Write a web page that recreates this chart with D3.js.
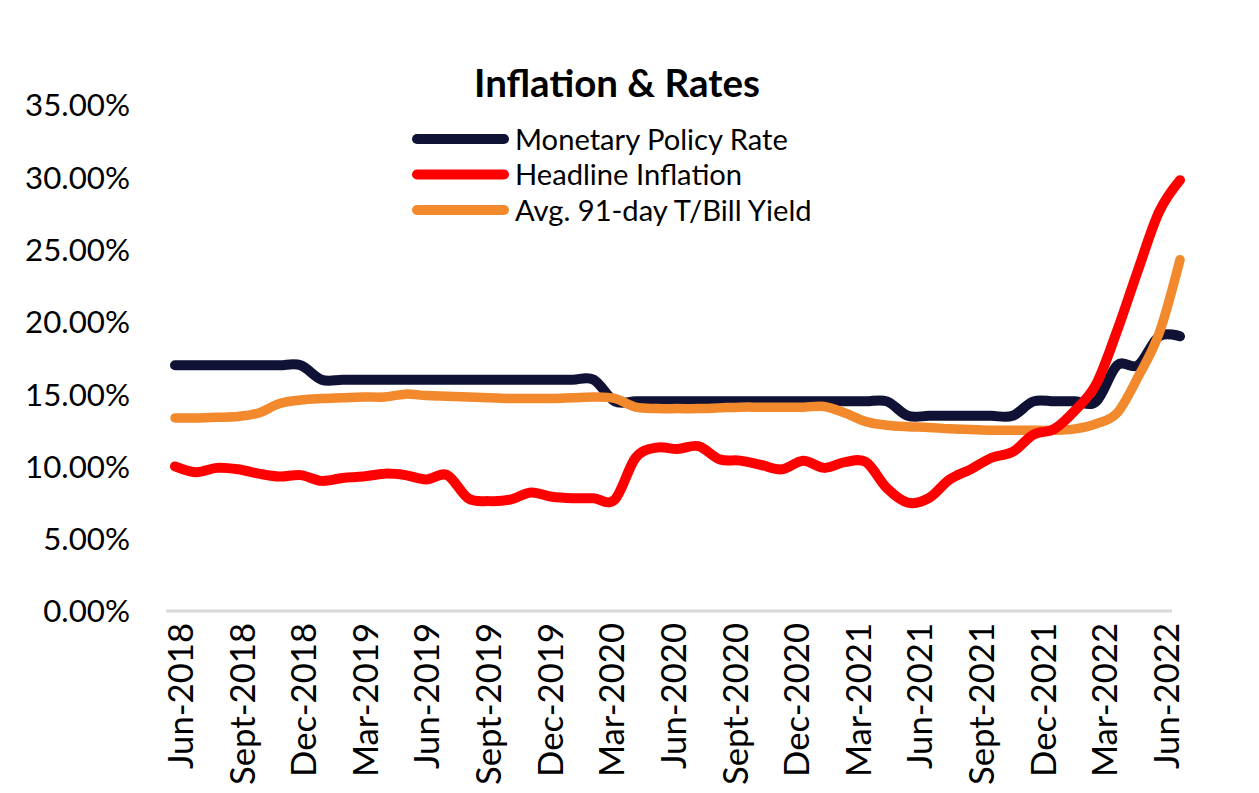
<!DOCTYPE html>
<html>
<head>
<meta charset="utf-8">
<script src="https://cdn.jsdelivr.net/npm/d3@7"></script>
<style>
  html, body { margin: 0; padding: 0; background: #fff; }
  svg { display: block; }
  text { font-family: Lato, "Open Sans", sans-serif; fill: #000; }
</style>
</head>
<body>
<svg id="chart" width="1259" height="793"></svg>
<script>
// ---------- DATA ----------
const months = [
  "Jun-2018","Jul-2018","Aug-2018","Sept-2018","Oct-2018","Nov-2018","Dec-2018",
  "Jan-2019","Feb-2019","Mar-2019","Apr-2019","May-2019","Jun-2019","Jul-2019","Aug-2019","Sept-2019","Oct-2019","Nov-2019","Dec-2019",
  "Jan-2020","Feb-2020","Mar-2020","Apr-2020","May-2020","Jun-2020","Jul-2020","Aug-2020","Sept-2020","Oct-2020","Nov-2020","Dec-2020",
  "Jan-2021","Feb-2021","Mar-2021","Apr-2021","May-2021","Jun-2021","Jul-2021","Aug-2021","Sept-2021","Oct-2021","Nov-2021","Dec-2021",
  "Jan-2022","Feb-2022","Mar-2022","Apr-2022","May-2022","Jun-2022"
];
const xTickLabels = ["Jun-2018","Sept-2018","Dec-2018","Mar-2019","Jun-2019","Sept-2019","Dec-2019",
  "Mar-2020","Jun-2020","Sept-2020","Dec-2020","Mar-2021","Jun-2021","Sept-2021","Dec-2021","Mar-2022","Jun-2022"];
const yTicks = [0, 5, 10, 15, 20, 25, 30, 35];

const policyRate = [
  17,17,17,17,17,17,17,
  16,16,16,16,16,16,16,16,16,16,16,16,
  16,16,14.5,14.5,14.5,14.5,14.5,14.5,14.5,14.5,14.5,14.5,
  14.5,14.5,14.5,14.5,13.5,13.5,13.5,13.5,13.5,13.5,14.5,14.5,
  14.5,14.5,17,17,19,19
];
const headlineInflation = [
  10.0,9.6,9.9,9.8,9.5,9.3,9.4,
  9.0,9.2,9.3,9.5,9.4,9.1,9.4,7.8,7.6,7.7,8.2,7.9,
  7.8,7.8,7.7,10.6,11.3,11.2,11.4,10.5,10.4,10.1,9.8,10.4,
  9.9,10.3,10.3,8.5,7.5,7.8,9.1,9.8,10.6,11.0,12.2,12.6,
  13.9,15.7,19.4,23.6,27.6,29.8
];
const tbillYield = [
  13.35,13.35,13.4,13.45,13.7,14.35,14.6,
  14.7,14.75,14.8,14.8,15.0,14.9,14.85,14.8,14.75,14.7,14.7,14.7,
  14.75,14.8,14.7,14.1,14.0,14.0,14.0,14.05,14.1,14.1,14.1,14.1,
  14.15,13.7,13.1,12.85,12.75,12.7,12.6,12.55,12.5,12.5,12.5,12.5,
  12.6,12.95,13.7,16.2,19.2,24.3
];
const seriesNames = ["Monetary Policy Rate", "Headline Inflation", "Avg. 91-day T/Bill Yield"];
const seriesColors = ["#0F1235", "#FF0000", "#F2892C"];

// ---------- LAYOUT ----------
const svg = d3.select("#chart");
const W = 1259, H = 793;
svg.append("rect").attr("width", W).attr("height", H).attr("fill", "#fff");

const plotTop = 105, plotBottom = 611;
const y = d3.scaleLinear().domain([0, 35]).range([plotBottom, plotTop]);
const xLine = d3.scaleLinear().domain([0, months.length - 1]).range([175, 1180]);
const xLab = d3.scalePoint().domain(months).range([180, 1166]);

function fitFont(sel, sample, target, base) {
  sel.style("font-size", base + "px");
  let w = 0;
  sel.each(function () { if (this.textContent === sample) w = this.getComputedTextLength(); });
  if (w > 0) sel.style("font-size", (base * target / w) + "px");
}

// Y axis (labels only)
const yAxis = svg.append("g")
  .attr("transform", "translate(130,0)")
  .call(d3.axisLeft(y).tickValues(yTicks).tickSize(0).tickPadding(0)
    .tickFormat(d => d.toFixed(2) + "%"));
yAxis.select(".domain").remove();
yAxis.selectAll("text").attr("fill", "#000").style("font-family", "Lato, sans-serif")
  .attr("dy", "0.35em");
fitFont(yAxis.selectAll("text"), "35.00%", 105, 30);

// X axis line
svg.append("line")
  .attr("x1", 166).attr("x2", 1172)
  .attr("y1", y(0)).attr("y2", y(0))
  .attr("stroke", "#D9D9D9").attr("stroke-width", 3);

// X axis labels
const xAxis = svg.append("g")
  .attr("transform", `translate(0,${y(0)})`)
  .call(d3.axisBottom(xLab).tickValues(xTickLabels).tickSize(0).tickPadding(0));
xAxis.select(".domain").remove();
xAxis.selectAll(".tick text")
  .attr("fill", "#000")
  .style("font-family", "Lato, sans-serif")
  .attr("text-anchor", "end")
  .attr("transform", "rotate(-90)")
  .attr("x", -12)
  .attr("y", 0)
  .attr("dy", "0.36em");
fitFont(xAxis.selectAll(".tick text"), "Sept-2018", 162, 28);

// Lines
const line = d3.line()
  .x((d, i) => xLine(i))
  .y(d => y(d))
  .curve(d3.curveCardinal.tension(0));

const drawOrder = [
  { data: policyRate, color: seriesColors[0], w: 10 },
  { data: tbillYield, color: seriesColors[2], w: 9.5 },
  { data: headlineInflation, color: seriesColors[1], w: 10 }
];
drawOrder.forEach(s => {
  svg.append("path")
    .datum(s.data)
    .attr("d", line)
    .attr("fill", "none")
    .attr("stroke", s.color)
    .attr("stroke-width", s.w)
    .attr("stroke-linecap", "round")
    .attr("stroke-linejoin", "round");
});

// Title
const title = svg.append("text")
  .attr("x", 617).attr("y", 97)
  .attr("text-anchor", "middle")
  .style("font-weight", "bold")
  .text("Inflation & Rates");
fitFont(title, "Inflation & Rates", 286, 32);

// Legend
const legendY = d3.scalePoint().domain(seriesNames).range([139, 210]);
const legend = svg.append("g");
const items = legend.selectAll("g").data(seriesNames).join("g")
  .attr("transform", d => `translate(0,${legendY(d)})`);
items.append("line")
  .attr("x1", 417).attr("x2", 504)
  .attr("stroke", (d, i) => seriesColors[i])
  .attr("stroke-width", 10)
  .attr("stroke-linecap", "round");
const legTexts = items.append("text")
  .attr("x", 515).attr("y", 0).attr("dy", "0.36em")
  .text(d => d);
fitFont(legTexts, "Monetary Policy Rate", 273, 26);
</script>
</body>
</html>
